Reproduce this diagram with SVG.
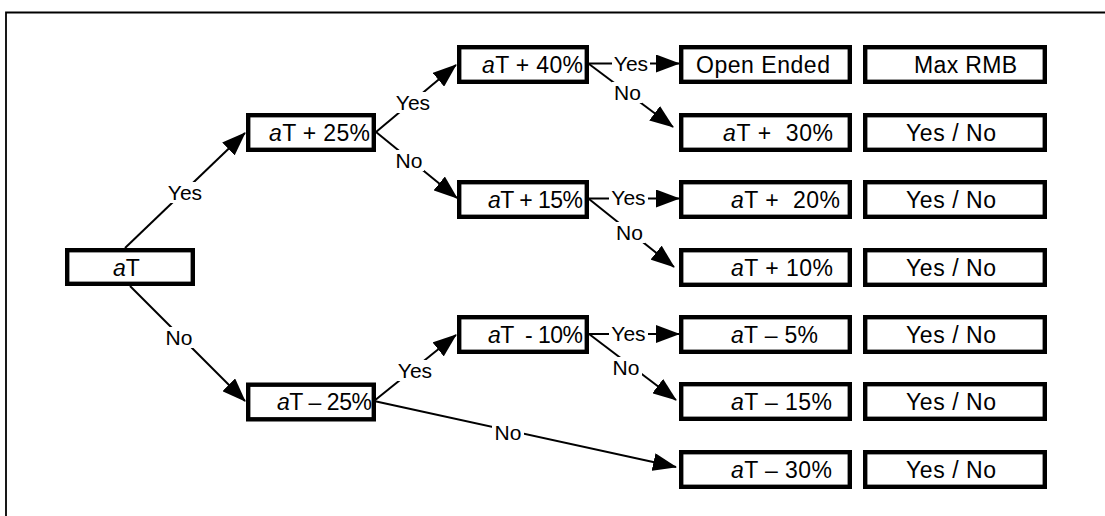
<svg xmlns="http://www.w3.org/2000/svg" width="1105" height="516" viewBox="0 0 1105 516">
  <style>
    .frame { stroke: #000; stroke-width: 1.8; fill: none; }
    .box { fill: #fff; stroke: #000; stroke-width: 4.4; }
    .btxt { font-family: "Liberation Sans", Arial, sans-serif; font-size: 23px; fill: #000; }
    .lbl { font-family: "Liberation Sans", Arial, sans-serif; font-size: 21px; fill: #000; text-anchor: middle; }
    .lblbg { fill: #fff; }
    .edge { stroke: #000; stroke-width: 2; fill: none; marker-end: url(#arrow); }
    .it { font-style: italic; }
  </style>
  <defs>
    <marker id="arrow" markerUnits="userSpaceOnUse" markerWidth="24" markerHeight="18" viewBox="0 0 24 18" refX="23" refY="9" orient="auto">
      <path d="M0,0 L24,9 L0,18 z" fill="#000"/>
    </marker>
  </defs>
  <rect width="1105" height="516" fill="#fff"/>

  <!-- partial outer frame -->
  <path class="frame" d="M6,516 L6,12.5 L1105,12.5"/>

  <!-- connectors -->
  <g id="connectors">
    <line class="edge" x1="125" y1="248" x2="245" y2="133"/>
    <line class="edge" x1="130" y1="286" x2="245" y2="401"/>
    <line class="edge" x1="376" y1="132" x2="456" y2="65"/>
    <line class="edge" x1="376" y1="132" x2="457" y2="198"/>
    <line class="edge" x1="589" y1="63.5" x2="679" y2="63.5"/>
    <line class="edge" x1="589" y1="64" x2="673" y2="127"/>
    <line class="edge" x1="589" y1="198.5" x2="679" y2="198.5"/>
    <line class="edge" x1="589" y1="199" x2="674" y2="267"/>
    <line class="edge" x1="374" y1="401" x2="456" y2="335"/>
    <line class="edge" x1="374" y1="401" x2="676" y2="467"/>
    <line class="edge" x1="589" y1="334" x2="679" y2="334"/>
    <line class="edge" x1="589" y1="334" x2="676" y2="400"/>

    <!-- edge labels -->
    <g id="edge-labels">
      <rect class="lblbg" x="166" y="182" width="38" height="21"/>
      <text class="lbl" x="185" y="200">Yes</text>
      <rect class="lblbg" x="164" y="327" width="30" height="21"/>
      <text class="lbl" x="179" y="345">No</text>
      <rect class="lblbg" x="394" y="92" width="38" height="21"/>
      <text class="lbl" x="413" y="110">Yes</text>
      <rect class="lblbg" x="394" y="150" width="30" height="21"/>
      <text class="lbl" x="409" y="168">No</text>
      <rect class="lblbg" x="612" y="53" width="38" height="21"/>
      <text class="lbl" x="631" y="70.5">Yes</text>
      <rect class="lblbg" x="612" y="82" width="30" height="21"/>
      <text class="lbl" x="627.5" y="100">No</text>
      <rect class="lblbg" x="609" y="187" width="39" height="21"/>
      <text class="lbl" x="628.5" y="205">Yes</text>
      <rect class="lblbg" x="614" y="222" width="31" height="21"/>
      <text class="lbl" x="629.5" y="240">No</text>
      <rect class="lblbg" x="396" y="360" width="38" height="21"/>
      <text class="lbl" x="415" y="378">Yes</text>
      <rect class="lblbg" x="492" y="422" width="32" height="21"/>
      <text class="lbl" x="508" y="440">No</text>
      <rect class="lblbg" x="609" y="323" width="39" height="21"/>
      <text class="lbl" x="628.5" y="340.5">Yes</text>
      <rect class="lblbg" x="610" y="357" width="32" height="21"/>
      <text class="lbl" x="626" y="375">No</text>
    </g>
  </g>

  <!-- root -->
  <g id="n-aT">
    <rect class="box" x="67.2" y="250.2" width="125.6" height="33.6"/>
    <text class="btxt" x="113" y="275.5"><tspan class="it">a</tspan>T</text>
  </g>

  <!-- second level -->
  <g id="n-plus25">
    <rect class="box" x="248.2" y="115.2" width="125.6" height="34.6"/>
    <text class="btxt" x="269" y="140.5" textLength="101"><tspan class="it">a</tspan>T + 25%</text>
  </g>
  <g id="n-minus25">
    <rect class="box" x="248.2" y="384.7" width="125.6" height="34.6"/>
    <text class="btxt" x="277" y="410" textLength="95"><tspan class="it">a</tspan>T – 25%</text>
  </g>

  <!-- third level -->
  <g id="n-plus40">
    <rect class="box" x="459.2" y="47.2" width="127.6" height="34.6"/>
    <text class="btxt" x="482" y="72.5" textLength="101"><tspan class="it">a</tspan>T + 40%</text>
  </g>
  <g id="n-plus15">
    <rect class="box" x="459.2" y="182.2" width="127.6" height="34.6"/>
    <text class="btxt" x="488" y="207.5" textLength="95"><tspan class="it">a</tspan>T + 15%</text>
  </g>
  <g id="n-minus10">
    <rect class="box" x="459.2" y="317.2" width="127.6" height="34.6"/>
    <text class="btxt" x="488" y="342.5" textLength="95" xml:space="preserve"><tspan class="it">a</tspan>T  - 10%</text>
  </g>

  <!-- outcome column -->
  <g id="n-open">
    <rect class="box" x="681.2" y="47.2" width="168.6" height="34.6"/>
    <text class="btxt" x="696" y="72.5" textLength="134">Open Ended</text>
  </g>
  <g id="n-plus30">
    <rect class="box" x="681.2" y="115.2" width="168.6" height="34.6"/>
    <text class="btxt" x="723" y="140.5" textLength="110" xml:space="preserve"><tspan class="it">a</tspan>T +  30%</text>
  </g>
  <g id="n-plus20">
    <rect class="box" x="681.2" y="182.2" width="168.6" height="34.6"/>
    <text class="btxt" x="731" y="207.5" textLength="109" xml:space="preserve"><tspan class="it">a</tspan>T +  20%</text>
  </g>
  <g id="n-plus10">
    <rect class="box" x="681.2" y="250.2" width="168.6" height="34.6"/>
    <text class="btxt" x="731" y="275.5" textLength="102"><tspan class="it">a</tspan>T + 10%</text>
  </g>
  <g id="n-minus5">
    <rect class="box" x="681.2" y="317.2" width="168.6" height="34.6"/>
    <text class="btxt" x="731" y="342.5" textLength="87"><tspan class="it">a</tspan>T – 5%</text>
  </g>
  <g id="n-minus15">
    <rect class="box" x="681.2" y="384.2" width="168.6" height="34.6"/>
    <text class="btxt" x="731" y="409.5" textLength="101"><tspan class="it">a</tspan>T – 15%</text>
  </g>
  <g id="n-minus30">
    <rect class="box" x="681.2" y="452.2" width="168.6" height="34.6"/>
    <text class="btxt" x="731" y="477.5" textLength="101"><tspan class="it">a</tspan>T – 30%</text>
  </g>

  <!-- response column -->
  <g id="r-maxrmb">
    <rect class="box" x="865.2" y="47.2" width="179.6" height="34.6"/>
    <text class="btxt" x="914" y="72.5" textLength="103">Max RMB</text>
  </g>
  <g id="r-plus30">
    <rect class="box" x="865.2" y="115.2" width="179.6" height="34.6"/>
    <text class="btxt" x="906" y="140.5" textLength="90">Yes / No</text>
  </g>
  <g id="r-plus20">
    <rect class="box" x="865.2" y="182.2" width="179.6" height="34.6"/>
    <text class="btxt" x="906" y="207.5" textLength="90">Yes / No</text>
  </g>
  <g id="r-plus10">
    <rect class="box" x="865.2" y="250.2" width="179.6" height="34.6"/>
    <text class="btxt" x="906" y="275.5" textLength="90">Yes / No</text>
  </g>
  <g id="r-minus5">
    <rect class="box" x="865.2" y="317.2" width="179.6" height="34.6"/>
    <text class="btxt" x="906" y="342.5" textLength="90">Yes / No</text>
  </g>
  <g id="r-minus15">
    <rect class="box" x="865.2" y="384.2" width="179.6" height="34.6"/>
    <text class="btxt" x="906" y="409.5" textLength="90">Yes / No</text>
  </g>
  <g id="r-minus30">
    <rect class="box" x="865.2" y="452.2" width="179.6" height="34.6"/>
    <text class="btxt" x="906" y="477.5" textLength="90">Yes / No</text>
  </g>
</svg>
